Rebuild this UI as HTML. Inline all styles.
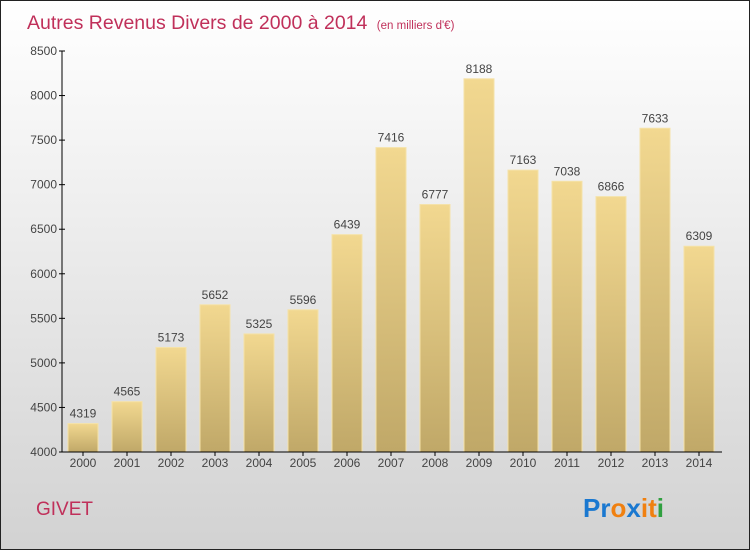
<!DOCTYPE html>
<html><head><meta charset="utf-8"><style>
body{margin:0;}
#wrap{position:relative;width:748px;height:548px;border:1px solid #222;background:linear-gradient(#ffffff,#f4f4f4 25%,#d2d2d2);font-family:"Liberation Sans",sans-serif;overflow:hidden}
</style></head><body>
<div id="wrap">
<svg id="chart" width="748" height="548">
<defs><linearGradient id="bg" x1="0" y1="0" x2="0" y2="1"><stop offset="0" stop-color="#f2d890"/><stop offset="1" stop-color="#c0a868"/></linearGradient></defs>
<text x="26" y="28" font-size="19.5" fill="#c0305a">Autres Revenus Divers de 2000 à 2014 <tspan font-size="11.5" dx="4">(en milliers d'€)</tspan></text>
<g id="bars"></g><g id="axes"></g>
<text x="35" y="514" font-size="19" fill="#c0305a">GIVET</text>
<g font-size="26" font-weight="bold" font-family="'Liberation Sans',sans-serif">
<text x="582" y="516"><tspan fill="#1a78d0">Pr</tspan><tspan fill="#f08010">o</tspan><tspan fill="#1a78d0">x</tspan><tspan fill="#f08010">i</tspan><tspan fill="#f08010">t</tspan><tspan fill="#30a040">i</tspan></text></g>
</svg>
<script>
const years=["2000","2001","2002","2003","2004","2005","2006","2007","2008","2009","2010","2011","2012","2013","2014"];
const values=[4319,4565,5173,5652,5325,5596,6439,7416,6777,8188,7163,7038,6866,7633,6309];
const ticks=[4000,4500,5000,5500,6000,6500,7000,7500,8000,8500];
const NS="http://www.w3.org/2000/svg";
const y=v=>451-(v-4000)*401/4500;
const x=i=>82+i*44;
function mk(t,a,p){const e=document.createElementNS(NS,t);for(const k in a)e.setAttribute(k,a[k]);p.appendChild(e);return e;}
const bars=document.getElementById('bars'),axes=document.getElementById('axes');
values.forEach((v,i)=>{
 const r=mk('rect',{x:x(i)-15,y:y(v),width:30,height:451-y(v),fill:'url(#bg)',stroke:'#f5e2a8','stroke-width':1},bars);
 
 
 const t=mk('text',{x:x(i),y:y(v)-6,'text-anchor':'middle','font-size':12,fill:'#444'},bars);t.textContent=v;
 
 
 const l=mk('text',{x:x(i),y:466,'text-anchor':'middle','font-size':12,fill:'#444'},axes);l.textContent=years[i];
 
 
 mk('line',{x1:x(i),x2:x(i),y1:451,y2:455,stroke:'#000'},axes);
});
mk('line',{x1:61,x2:61,y1:50,y2:451,stroke:'#000'},axes);
mk('line',{x1:61,x2:721,y1:451,y2:451,stroke:'#000'},axes);
ticks.forEach(v=>{
 mk('line',{x1:58,x2:64,y1:y(v),y2:y(v),stroke:'#000'},axes);
 const t=mk('text',{x:56,y:y(v)+4,'text-anchor':'end','font-size':12,fill:'#444'},axes);t.textContent=v;
 
 
});
</script>
</div></body></html>
